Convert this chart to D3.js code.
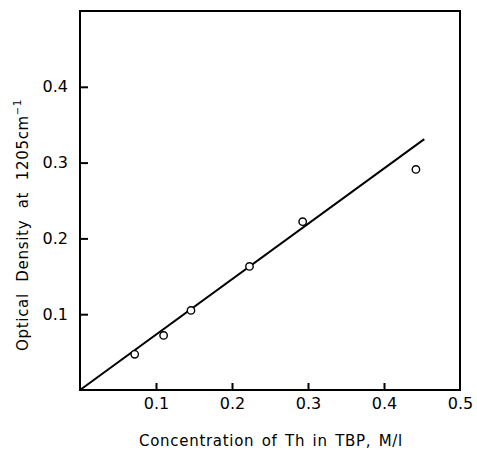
<!DOCTYPE html>
<html><head><meta charset="utf-8">
<script src="https://cdn.jsdelivr.net/npm/d3@7"></script>
<style>body{margin:0;background:#fff}svg{display:block}</style>
</head><body>
<script>
const concentration = [0.072, 0.110, 0.146, 0.223, 0.293, 0.442];
const opticalDensity = [0.047, 0.072, 0.105, 0.163, 0.222, 0.291];
const fitLine = [[0, 0], [0.453, 0.331]];
const xTicks = [0.1, 0.2, 0.3, 0.4, 0.5];
const yTicks = [0.1, 0.2, 0.3, 0.4];

const W = 477, H = 453;
const m = {left: 80, top: 11, right: 17, bottom: 63};
const font = "DejaVu Sans, Verdana, sans-serif";
const svg = d3.select("body").append("svg").attr("width", W).attr("height", H);
const x = d3.scaleLinear().domain([0, 0.5]).range([m.left, W - m.right]);
const y = d3.scaleLinear().domain([0, 0.5]).range([H - m.bottom, m.top]);

// frame
svg.append("rect").attr("x", x(0)).attr("y", y(0.5))
  .attr("width", x(0.5) - x(0)).attr("height", y(0) - y(0.5))
  .attr("fill", "none").attr("stroke", "#000").attr("stroke-width", 2);

const xAxis = svg.append("g").attr("transform", `translate(0,${y(0)})`)
  .call(d3.axisBottom(x).tickValues(xTicks).tickSizeInner(-7).tickSizeOuter(0).tickPadding(8).tickFormat(d3.format(".1f")));
const yAxis = svg.append("g").attr("transform", `translate(${x(0)},0)`)
  .call(d3.axisLeft(y).tickValues(yTicks).tickSizeInner(-8).tickSizeOuter(0).tickPadding(12).tickFormat(d3.format(".1f")));
[xAxis, yAxis].forEach(g => {
  g.select(".domain").remove();
  g.selectAll(".tick line").attr("stroke", "#000").attr("stroke-width", 2);
  g.selectAll(".tick text").attr("fill", "#000").style("font-family", font).style("font-size", "16px");
});
xAxis.selectAll(".tick").filter(d => d === 0.5).select("line").remove();

// fit line
svg.append("path").datum(fitLine)
  .attr("d", d3.line().x(d => x(d[0])).y(d => y(d[1])))
  .attr("fill", "none").attr("stroke", "#000").attr("stroke-width", 2);

// points
svg.selectAll("circle.pt").data(concentration).join("circle").attr("class", "pt")
  .attr("cx", d => x(d)).attr("cy", (d, i) => y(opticalDensity[i])).attr("r", 3.7)
  .attr("fill", "#fff").attr("stroke", "#000").attr("stroke-width", 1.4);

// titles
svg.append("text").attr("x", 271).attr("y", 446).attr("text-anchor", "middle")
  .style("font-family", font).style("font-size", "15px").style("letter-spacing", "0.7px")
  .style("word-spacing", "2px").attr("fill", "#000")
  .text("Concentration of Th in TBP, M/l");
const yt = svg.append("text").attr("transform", "translate(28,225) rotate(-90)")
  .attr("text-anchor", "middle").style("font-family", font).style("font-size", "15px")
  .style("letter-spacing", "0.7px").style("word-spacing", "6px").attr("fill", "#000");
yt.append("tspan").text("Optical Density at 1205cm");
yt.append("tspan").attr("dy", -7).style("font-size", "10px").text("−1");
</script>
</body></html>
